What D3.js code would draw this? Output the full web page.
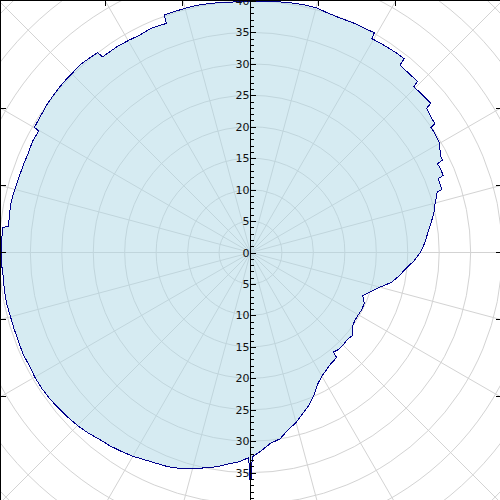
<!DOCTYPE html>
<html>
<head>
<meta charset="utf-8">
<script src="https://cdn.jsdelivr.net/npm/d3@7"></script>
<style>
  body { margin: 0; background: #fff; }
  svg { display: block; }
</style>
</head>
<body>
<div id="chart-area"></div>
<script>
// Angles (degrees, clockwise from north) and radius
const angles = [0, 3, 6, 9, 12, 15, 18, 21, 24, 27, 29.4, 29.6, 33, 36, 38.4, 38.6, 42, 44.3, 44.6, 48,
  50.4, 50.7, 54, 55, 55.3, 57, 60, 63, 64.3, 64.6, 66, 68.2, 68.5, 71.8, 72.1, 75, 78, 81, 84, 87,
  90, 93, 96, 99, 102, 105, 108, 111, 114, 117, 120, 123, 126, 129, 132, 135, 138, 140.3, 140.6, 144,
  147, 150, 153, 156, 159, 162, 165, 168, 171, 174, 177, 179.5, 180, 180.5, 183, 186, 189, 192, 195,
  198, 201, 204, 207, 210, 213, 216, 219, 222, 225, 228, 231, 234, 237, 240, 243, 246, 249, 252, 255,
  258, 261, 264, 267, 270, 273, 275.8, 276.1, 279, 282, 285, 288, 291, 294, 297, 299.8, 300.1, 303, 306,
  309, 312, 315, 318, 321, 322.6, 322.9, 327, 330, 333, 336, 339.8, 340.1, 345, 348, 351, 354, 357];
const radius = [39.9, 40.0, 40.1, 40.2, 40.3, 40.3, 40.0, 39.9, 40.0, 40.0, 40.1, 39.1, 39.2, 39.3, 39.3, 38.1, 38.0, 38.0, 37.0, 37.1,
  37.2, 36.2, 35.8, 35.8, 34.9, 34.9, 34.7, 33.9, 33.9, 32.9, 33.0, 33.0, 32.1, 32.0, 31.2, 30.4, 29.8, 29.0, 28.3, 27.7,
  27.0, 26.0, 24.8, 23.9, 22.9, 21.3, 20.1, 19.1, 19.8, 19.9, 19.8, 19.8, 20.0, 20.9, 20.7, 20.8, 20.8, 20.6, 21.6, 21.8,
  22.2, 22.7, 23.5, 24.8, 26.0, 26.9, 28.0, 28.8, 30.0, 30.5, 31.6, 32.5, 37.5, 32.6, 33.3, 33.8, 34.5, 35.0, 35.6,
  36.1, 36.5, 36.7, 37.0, 37.4, 37.7, 38.0, 38.2, 38.6, 38.9, 39.1, 39.3, 39.5, 39.6, 39.6, 39.5, 39.6, 39.5, 39.5, 39.5,
  39.6, 39.6, 39.5, 39.6, 39.6, 39.6, 39.6, 38.7, 38.8, 38.9, 38.8, 38.7, 38.7, 38.7, 38.9, 38.8, 39.7, 39.8, 40.0,
  40.1, 40.2, 40.2, 40.3, 40.1, 40.0, 39.0, 39.0, 38.9, 38.8, 39.0, 38.8, 40.2, 40.2, 40.2, 40.1, 40.0, 39.9];

const gridRings = [5, 10, 15, 20, 25, 30, 35, 40, 45, 50, 55];
const spokeStep = 15;
const axisTicks = [-40, -35, -30, -25, -20, -15, -10, -5, 0, 5, 10, 15, 20, 25, 30, 35, 40];
const frameTickAngles = [15, 30, 60, 75, 90, 105, 120, 150, 165, 195, 210, 240, 255, 270, 285, 300, 330, 345];

const width = 500;
const height = 500;
const cx = 250.5, cy = 252.5;
const box = { x0: 0.5, y0: 0.5, x1: 500.5, y1: 505.5 };

const svg = d3.select("#chart-area")
  .append("svg")
  .attr("width", width)
  .attr("height", height);

// Escalas
const r = d3.scaleLinear().domain([0, 40]).range([0, 251.6]);
const ang = d3.scaleLinear().domain([0, 360]).range([0, 2 * Math.PI]);
const px = (deg, v) => cx + r(v) * Math.sin(ang(deg));
const py = (deg, v) => cy - r(v) * Math.cos(ang(deg));

// Grid: circles
const grid = svg.append("g").attr("class", "grid");
grid.selectAll("circle")
  .data(gridRings)
  .enter()
  .append("circle")
  .attr("cx", cx)
  .attr("cy", cy)
  .attr("r", d => r(d))
  .attr("fill", "none")
  .attr("stroke", "#d3d3d3")
  .attr("stroke-width", 1);

// Grid: spokes
const spokes = d3.range(0, 360, spokeStep);
grid.selectAll("line")
  .data(spokes)
  .enter()
  .append("line")
  .attr("x1", cx)
  .attr("y1", cy)
  .attr("x2", d => px(d, 70))
  .attr("y2", d => py(d, 70))
  .attr("stroke", "#d3d3d3")
  .attr("stroke-width", 1);

// Shape
const pts = angles.map((d, i) => [px(d, radius[i]), py(d, radius[i])]);
const line = d3.line().curve(d3.curveLinearClosed);

svg.append("path")
  .attr("d", line(pts))
  .attr("fill", "lightblue")
  .attr("fill-opacity", 0.5)
  .attr("stroke", "none");

svg.append("path")
  .attr("d", line(pts))
  .attr("fill", "none")
  .attr("stroke", "darkblue")
  .attr("stroke-width", 1)
  .attr("shape-rendering", "crispEdges");

// Vertical radius axis
const y = d3.scaleLinear().domain([-40, 40]).range([cy + r(40), cy - r(40)]);

svg.append("line")
  .attr("x1", cx).attr("x2", cx)
  .attr("y1", 0).attr("y2", height)
  .attr("stroke", "black")
  .attr("shape-rendering", "crispEdges");

svg.append("g")
  .attr("transform", `translate(${cx}, 0)`)
  .call(d3.axisLeft(y).tickValues(d3.range(-40, 41, 1)).tickSize(-3).tickFormat(""))
  .call(g => g.select(".domain").remove())
  .attr("shape-rendering", "crispEdges");

svg.append("g")
  .attr("transform", `translate(${cx}, 0)`)
  .call(d3.axisLeft(y).tickValues(axisTicks).tickSize(-5).tickPadding(1).tickFormat(d => Math.abs(d)))
  .call(g => g.select(".domain").remove())
  .call(g => g.selectAll("line").attr("shape-rendering", "crispEdges"))
  .call(g => g.selectAll("text")
    .attr("font-family", "DejaVu Sans, sans-serif")
    .attr("font-size", "11px")
    .attr("fill", "#111"));

// Frame
svg.append("rect")
  .attr("x", box.x0).attr("y", box.y0)
  .attr("width", box.x1 - box.x0).attr("height", box.y1 - box.y0)
  .attr("fill", "none")
  .attr("stroke", "black")
  .attr("shape-rendering", "crispEdges");

// Frame ticks where spokes meet the frame
function hit(deg) {
  const dx = Math.sin(ang(deg)), dy = -Math.cos(ang(deg));
  let best = Infinity, side = null;
  if (dx > 1e-9) { const t = (box.x1 - cx) / dx; if (t < best) { best = t; side = "r"; } }
  if (dx < -1e-9) { const t = (box.x0 - cx) / dx; if (t < best) { best = t; side = "l"; } }
  if (dy > 1e-9) { const t = (box.y1 - cy) / dy; if (t < best) { best = t; side = "b"; } }
  if (dy < -1e-9) { const t = (box.y0 - cy) / dy; if (t < best) { best = t; side = "t"; } }
  return { x: cx + dx * best, y: cy + dy * best, side };
}
const tl = 5;
svg.append("g")
  .selectAll("line")
  .data(frameTickAngles.map(hit))
  .enter()
  .append("line")
  .attr("x1", d => d.x)
  .attr("y1", d => d.y)
  .attr("x2", d => d.side === "l" ? d.x + tl : d.side === "r" ? d.x - tl : d.x)
  .attr("y2", d => d.side === "t" ? d.y + tl : d.side === "b" ? d.y - tl : d.y)
  .attr("stroke", "black")
  .attr("shape-rendering", "crispEdges");
</script>
</body>
</html>
